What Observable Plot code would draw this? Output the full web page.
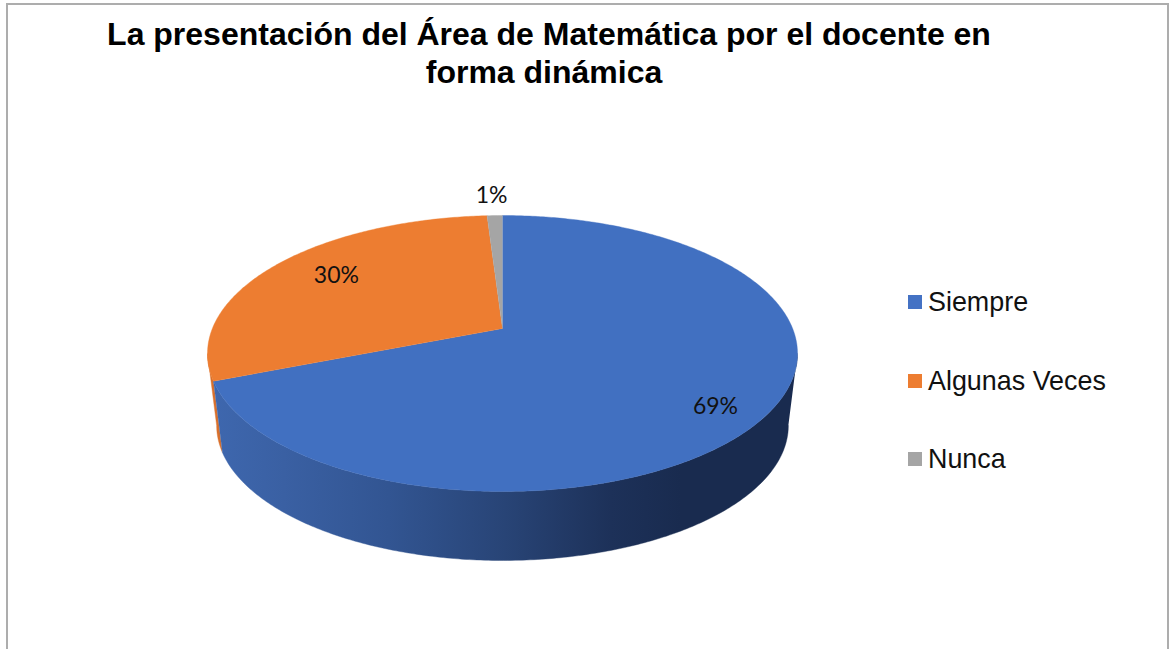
<!DOCTYPE html>
<html lang="es">
<head>
<meta charset="utf-8">
<script src="https://cdn.jsdelivr.net/npm/d3@7"></script>
<script src="https://cdn.jsdelivr.net/npm/@observablehq/plot@0.6"></script>
<style>
html,body{margin:0;padding:0;background:#fff;overflow:hidden}
#page{position:relative;width:1169px;height:649px;overflow:hidden}
#frame{position:absolute;left:6px;top:3px;right:0;bottom:-10px;border:solid #adadad;border-width:2px 2px 0 2px;box-sizing:border-box}
#title{position:absolute;left:49px;width:1000px;top:15px;text-align:center;font:bold 32px/38px "Liberation Sans",Arial,sans-serif;color:#000;margin:0}
#title span{position:relative;display:inline-block}
#title span+br+span{left:-5px}
#chart{position:absolute;left:0;top:110px}
#legend{position:absolute;left:908px;top:0;font:26.9px "Liberation Sans",Arial,sans-serif;color:#111}
.item{position:absolute;left:0;white-space:nowrap;height:30px;line-height:30px}
.sw{display:inline-block;position:absolute;left:0;top:8px;width:14px;height:14px}
.lb{position:absolute;left:20px;top:0}
</style>
</head>
<body>
<div id="page">
  <div id="frame"></div>
  <h1 id="title"></h1>
  <div id="chart"></div>
  <div id="legend"></div>
</div>
<script>
const titleLines = ["La presentación del Área de Matemática por el docente en", "forma dinámica"];
const categories = ["Siempre", "Algunas Veces", "Nunca"];
const shares = [69, 30, 1];
const labels = ["69%", "30%", "1%"];
const colors = ["#4170c1", "#ed7d31", "#a5a5a5"];
const legendColors = ["#4472c4", "#ed7d31", "#a5a5a5"];

// layout of the tilted disc, in unit-disc coordinates
const apexShift = -0.181;
const bottomDisc = {sx: 0.969, cy: 0.522, sy: 0.978};
const labelAnchors = [[0.722, 0.384], [-0.563, -0.565], [-0.037, -1.145]];
const legendTops = [287, 366, 444];

document.getElementById("title").innerHTML = titleLines.map(t => `<span>${t}</span>`).join("<br>");

// perspective map of the disc: the disc centre moves to the apex
function project(theta) {
  const u = Math.sin(theta), v = -Math.cos(theta), a = apexShift, d = 1 + a * v;
  return [u * Math.sqrt(1 - a * a) / d, (v + a) / d];
}
const total = d3.sum(shares);
const turn = 2 * Math.PI;
let acc = 0;
const slices = shares.map((s, i) => {
  const start = acc / total * turn;
  acc += s;
  return {name: categories[i], start, end: acc / total * turn, color: colors[i]};
});
function arc(a0, a1) {
  const n = Math.max(2, Math.ceil(Math.abs(a1 - a0) * 90));
  return d3.range(n + 1).map(k => project(a0 + (a1 - a0) * k / n));
}
const topPts = slices.map(s => [[0, apexShift], ...arc(s.start, s.end)]);
const toRows = (pts) => pts.map(([x, y]) => ({x, y}));

// angle where the projected rim reaches its right and left extremes
const rightA = Math.acos(apexShift);
const leftA = turn - rightA;
const lowerPt = ([x, y]) => [x * bottomDisc.sx, bottomDisc.cy + y * bottomDisc.sy];

const blueEnd = slices[0].end;
const blueSide = [...arc(rightA, blueEnd), ...arc(blueEnd, rightA).map(lowerPt)];
const orangeSide = [...arc(blueEnd, leftA), ...arc(leftA, blueEnd).map(lowerPt)];

const defs = () => {
  const d = d3.create("svg:defs");
  const g = d.append("linearGradient").attr("id", "sideGrad").attr("x1", 0).attr("x2", 1).attr("y1", 0).attr("y2", 0);
  [[0, "#3e67ae"], [0.12, "#3a60a3"], [0.3, "#325592"], [0.5, "#284476"], [0.68, "#1d3159"], [0.8, "#192b4f"], [1, "#192b4f"]]
    .forEach(([o, c]) => g.append("stop").attr("offset", o).attr("stop-color", c));
  return d.node();
};

const face = (pts, fill) => Plot.line(toRows(pts), {x: "x", y: "y", fill, stroke: fill, strokeWidth: 0.4, curve: "linear"});

const chart = Plot.plot({
  width: 880,
  height: 539,
  margin: 0,
  x: {domain: [-1, 1], range: [207, 797], axis: null},
  y: {domain: [-1, 1], range: [105, 381], axis: null},
  marks: [
    defs,
    face(orangeSide, "#d9702b"),
    face(blueSide, "url(#sideGrad)"),
    ...topPts.map((pts, i) => face(pts, colors[i])),
    Plot.text(labels, {
      x: (d, i) => labelAnchors[i][0],
      y: (d, i) => labelAnchors[i][1],
      text: d => d,
      fontSize: 23,
      fontFamily: "Lato",
      fill: "#111"
    })
  ]
});
document.getElementById("chart").appendChild(chart);

const legend = document.getElementById("legend");
categories.forEach((c, i) => {
  const it = document.createElement("div");
  it.className = "item";
  it.style.top = legendTops[i] + "px";
  it.innerHTML = `<span class="sw" style="background:${legendColors[i]}"></span><span class="lb">${c}</span>`;
  legend.appendChild(it);
});
</script>
</body>
</html>
